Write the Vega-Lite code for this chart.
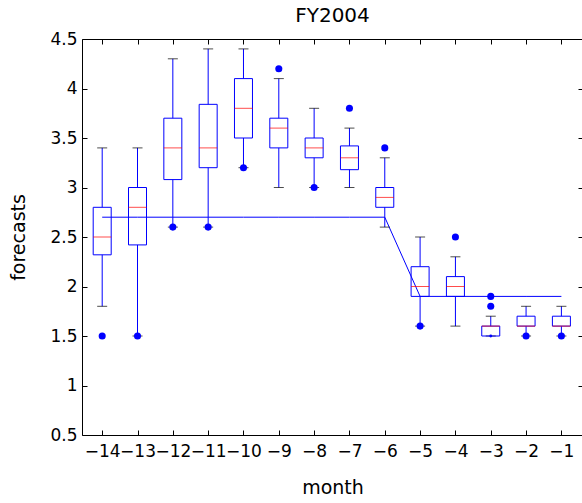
{
  "$schema": "https://vega.github.io/schema/vega-lite/v6.json",
  "width": 501,
  "height": 396,
  "autosize": {"type": "none"},
  "padding": {"left": 82, "top": 39, "right": 0, "bottom": 68},
  "background": "white",
  "title": {"text": "FY2004", "fontSize": 20, "fontWeight": "normal", "font": "DejaVu Sans", "color": "black", "offset": 4},
  "datasets": {
    "boxes": [
      {"month": -14, "lo": 1.8, "q1": 2.32, "med": 2.5, "q3": 2.8, "hi": 3.4},
      {"month": -13, "lo": 1.5, "q1": 2.42, "med": 2.8, "q3": 3.0, "hi": 3.4},
      {"month": -12, "lo": 2.6, "q1": 3.08, "med": 3.4, "q3": 3.7, "hi": 4.3},
      {"month": -11, "lo": 2.6, "q1": 3.2, "med": 3.4, "q3": 3.84, "hi": 4.4},
      {"month": -10, "lo": 3.2, "q1": 3.5, "med": 3.8, "q3": 4.1, "hi": 4.4},
      {"month": -9, "lo": 3.0, "q1": 3.4, "med": 3.6, "q3": 3.7, "hi": 4.1},
      {"month": -8, "lo": 3.0, "q1": 3.3, "med": 3.4, "q3": 3.5, "hi": 3.8},
      {"month": -7, "lo": 3.0, "q1": 3.18, "med": 3.3, "q3": 3.42, "hi": 3.6},
      {"month": -6, "lo": 2.6, "q1": 2.8, "med": 2.9, "q3": 3.0, "hi": 3.3},
      {"month": -5, "lo": 1.6, "q1": 1.9, "med": 2.0, "q3": 2.2, "hi": 2.5},
      {"month": -4, "lo": 1.6, "q1": 1.9, "med": 2.0, "q3": 2.1, "hi": 2.3},
      {"month": -3, "lo": 1.5, "q1": 1.5, "med": 1.6, "q3": 1.6, "hi": 1.7},
      {"month": -2, "lo": 1.5, "q1": 1.6, "med": 1.6, "q3": 1.7, "hi": 1.8},
      {"month": -1, "lo": 1.5, "q1": 1.6, "med": 1.6, "q3": 1.7, "hi": 1.8}
    ],
    "outliers": [
      {"month": -14, "value": 1.5},
      {"month": -13, "value": 1.5},
      {"month": -12, "value": 2.6},
      {"month": -11, "value": 2.6},
      {"month": -10, "value": 3.2},
      {"month": -9, "value": 4.2},
      {"month": -8, "value": 3.0},
      {"month": -7, "value": 3.8},
      {"month": -6, "value": 3.4},
      {"month": -5, "value": 1.6},
      {"month": -4, "value": 2.5},
      {"month": -3, "value": 1.9},
      {"month": -3, "value": 1.8},
      {"month": -2, "value": 1.5},
      {"month": -1, "value": 1.5}
    ],
    "smalldots": [
      {"month": -3, "value": 1.5}
    ],
    "actual": [
      {"month": -14, "value": 2.7},
      {"month": -13, "value": 2.7},
      {"month": -12, "value": 2.7},
      {"month": -11, "value": 2.7},
      {"month": -10, "value": 2.7},
      {"month": -9, "value": 2.7},
      {"month": -8, "value": 2.7},
      {"month": -7, "value": 2.7},
      {"month": -6, "value": 2.7},
      {"month": -5, "value": 1.9},
      {"month": -4, "value": 1.9},
      {"month": -3, "value": 1.9},
      {"month": -2, "value": 1.9},
      {"month": -1, "value": 1.9}
    ]
  },
  "resolve": {"axis": {"x": "independent", "y": "independent"}},
  "layer": [
    {
      "data": {"name": "actual"},
      "mark": {"type": "line", "color": "#0000ff", "strokeWidth": 1},
      "encoding": {
        "x": {"field": "month", "type": "quantitative", "scale": {"domain": [-14.43, -0.53], "nice": false, "zero": false},
          "axis": {"title": "month", "values": [-14, -13, -12, -11, -10, -9, -8, -7, -6, -5, -4, -3, -2, -1], "format": "d", "labelFontSize": 17, "labelOverlap": false, "labelPadding": 13, "titlePadding": 19}},
        "y": {"field": "value", "type": "quantitative", "scale": {"domain": [0.5, 4.5], "nice": false, "zero": false},
          "axis": {"title": "forecasts", "values": [0.5, 1, 1.5, 2, 2.5, 3, 3.5, 4, 4.5], "format": ".1~f", "labelOverlap": false, "labelPadding": 10, "titlePadding": 21}}
      }
    },
    {
      "data": {"name": "boxes"},
      "mark": {"type": "rule", "color": "#0000ff", "strokeWidth": 1},
      "encoding": {
        "x": {"field": "month", "type": "quantitative", "scale": {"domain": [-14.43, -0.53], "nice": false, "zero": false},
          "axis": {"title": null, "orient": "top", "values": [-14, -13, -12, -11, -10, -9, -8, -7, -6, -5, -4, -3, -2, -1], "labels": false}},
        "y": {"field": "q3", "type": "quantitative", "scale": {"domain": [0.5, 4.5], "nice": false, "zero": false},
          "axis": {"title": null, "orient": "right", "values": [0.5, 1, 1.5, 2, 2.5, 3, 3.5, 4, 4.5], "labels": false}},
        "y2": {"field": "hi"}
      }
    },
    {
      "data": {"name": "boxes"},
      "mark": {"type": "rule", "color": "#0000ff", "strokeWidth": 1},
      "encoding": {
        "x": {"field": "month", "type": "quantitative", "scale": {"domain": [-14.43, -0.53], "nice": false, "zero": false}, "axis": null},
        "y": {"field": "lo", "type": "quantitative", "scale": {"domain": [0.5, 4.5], "nice": false, "zero": false}, "axis": null},
        "y2": {"field": "q1"}
      }
    },
    {
      "data": {"name": "boxes"},
      "mark": {"type": "tick", "orient": "horizontal", "color": "black", "size": 10, "thickness": 1},
      "encoding": {
        "x": {"field": "month", "type": "quantitative", "scale": {"domain": [-14.43, -0.53], "nice": false, "zero": false}, "axis": null},
        "y": {"field": "hi", "type": "quantitative", "scale": {"domain": [0.5, 4.5], "nice": false, "zero": false}, "axis": null}
      }
    },
    {
      "data": {"name": "boxes"},
      "mark": {"type": "tick", "orient": "horizontal", "color": "black", "size": 10, "thickness": 1},
      "encoding": {
        "x": {"field": "month", "type": "quantitative", "scale": {"domain": [-14.43, -0.53], "nice": false, "zero": false}, "axis": null},
        "y": {"field": "lo", "type": "quantitative", "scale": {"domain": [0.5, 4.5], "nice": false, "zero": false}, "axis": null}
      }
    },
    {
      "data": {"name": "boxes"},
      "mark": {"type": "bar", "size": 18, "fill": "white", "fillOpacity": 0, "stroke": "#0000ff", "strokeWidth": 1},
      "encoding": {
        "x": {"field": "month", "type": "quantitative", "scale": {"domain": [-14.43, -0.53], "nice": false, "zero": false}, "axis": null},
        "y": {"field": "q1", "type": "quantitative", "scale": {"domain": [0.5, 4.5], "nice": false, "zero": false}, "axis": null},
        "y2": {"field": "q3"}
      }
    },
    {
      "data": {"name": "boxes"},
      "mark": {"type": "tick", "orient": "horizontal", "color": "#ff0000", "size": 18, "thickness": 1},
      "encoding": {
        "x": {"field": "month", "type": "quantitative", "scale": {"domain": [-14.43, -0.53], "nice": false, "zero": false}, "axis": null},
        "y": {"field": "med", "type": "quantitative", "scale": {"domain": [0.5, 4.5], "nice": false, "zero": false}, "axis": null}
      }
    },
    {
      "data": {"name": "outliers"},
      "mark": {"type": "point", "filled": true, "color": "#0000ff", "size": 50, "opacity": 1},
      "encoding": {
        "x": {"field": "month", "type": "quantitative", "scale": {"domain": [-14.43, -0.53], "nice": false, "zero": false}, "axis": null},
        "y": {"field": "value", "type": "quantitative", "scale": {"domain": [0.5, 4.5], "nice": false, "zero": false}, "axis": null}
      }
    },
    {
      "data": {"name": "smalldots"},
      "mark": {"type": "point", "filled": true, "color": "#0000ff", "size": 8, "opacity": 1},
      "encoding": {
        "x": {"field": "month", "type": "quantitative", "scale": {"domain": [-14.43, -0.53], "nice": false, "zero": false}, "axis": null},
        "y": {"field": "value", "type": "quantitative", "scale": {"domain": [0.5, 4.5], "nice": false, "zero": false}, "axis": null}
      }
    }
  ],
  "config": {
    "view": {"stroke": null},
    "font": "DejaVu Sans",
    "axis": {
      "grid": false,
      "domainColor": "black",
      "domainWidth": 1,
      "tickColor": "black",
      "tickSize": -5,
      "labelColor": "black",
      "labelFont": "DejaVu Sans",
      "labelFontSize": 17,
      "titleColor": "black",
      "titleFont": "DejaVu Sans",
      "titleFontSize": 19,
      "titleFontWeight": "normal"
    }
  }
}
